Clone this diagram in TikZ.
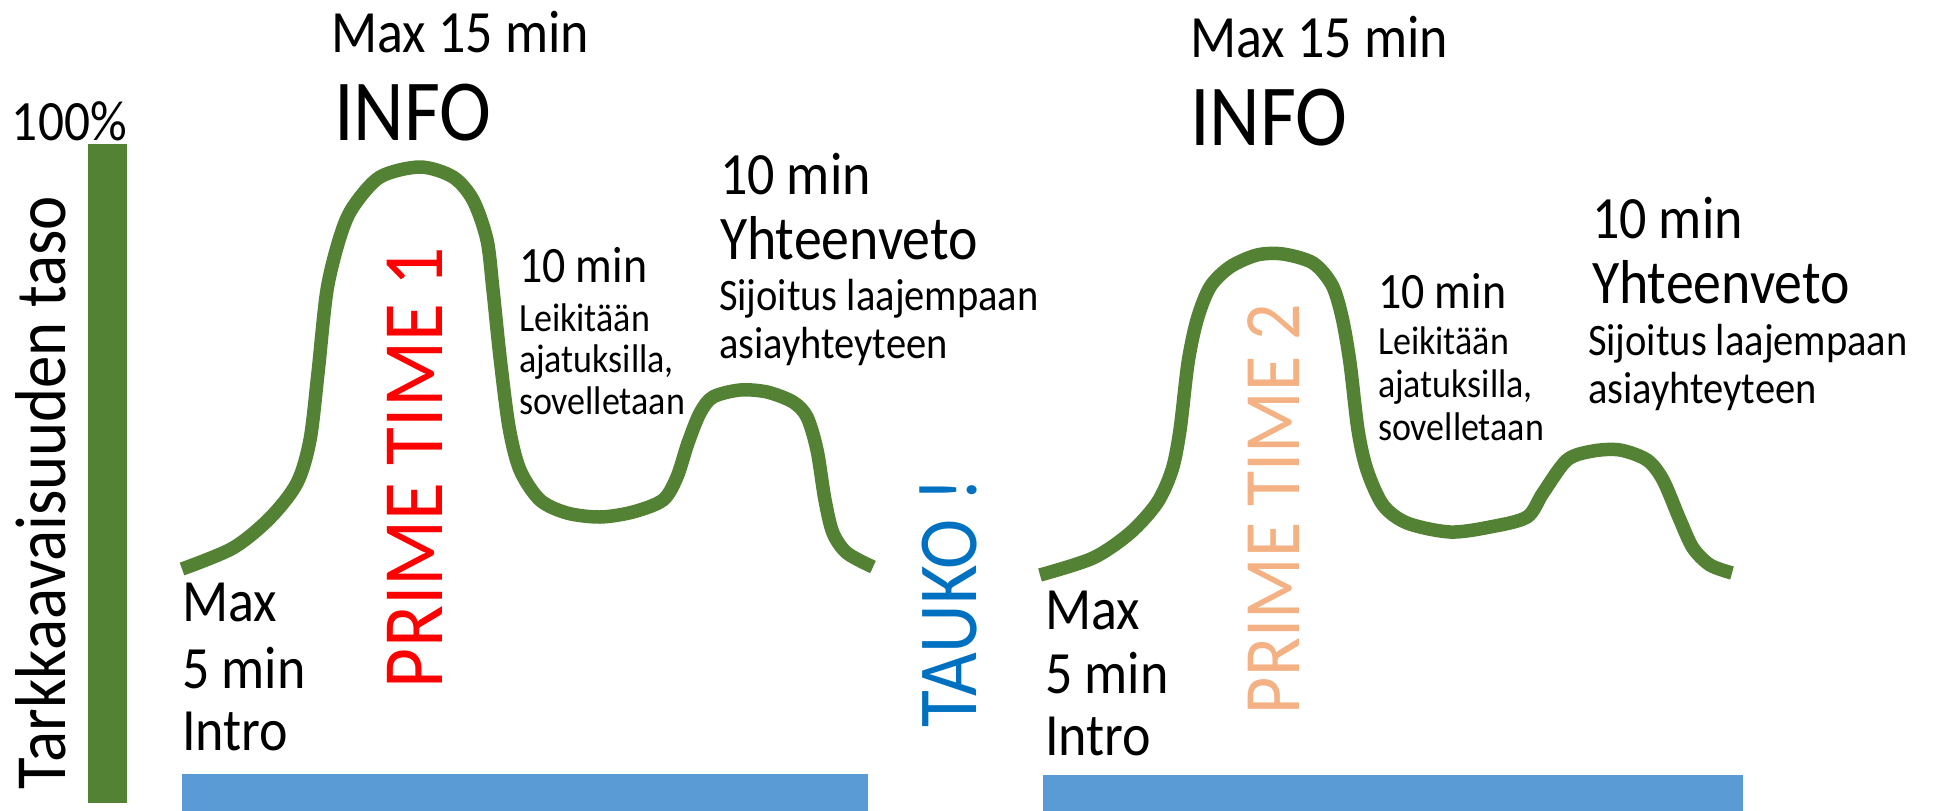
\documentclass[tikz,border=0pt]{standalone}
\usepackage{fontspec}
\setmainfont[FakeStretch=0.9]{Carlito}
\definecolor{cgreen}{HTML}{548235}
\definecolor{cbar}{HTML}{5B9BD5}
\definecolor{ctauko}{HTML}{0070C0}
\definecolor{cpt1}{HTML}{FF0000}
\definecolor{cpt2}{HTML}{F4B183}
\begin{document}
\begin{tikzpicture}[x=1pt,y=-1pt,
  txt/.style={inner sep=0pt, outer sep=0pt, anchor=base west},
  bigtxt/.style={txt, font=\fontsize{60}{62}\selectfont},
  yhttxt/.style={txt, font=\fontsize{62}{64}\selectfont},
  infotxt/.style={txt, font=\fontsize{87}{90}\selectfont},
  midtxt/.style={txt, font=\fontsize{45}{48}\selectfont},
  smalltxt/.style={txt, font=\fontsize{40}{42}\selectfont},
  sminutes/.style={txt, font=\fontsize{51}{53}\selectfont},
  vtxt/.style={txt, rotate=90},
  curve/.style={draw=cgreen, line width=13.5pt, line join=round}
]
\useasboundingbox (0,0) rectangle (1933,811);

% bars
\fill[cgreen] (88,144) rectangle (127,803);
\fill[cbar] (182,774) rectangle (868,811);
\fill[cbar] (1043,775) rectangle (1743,811);

% curves
\draw[curve] plot[smooth, tension=0.5] coordinates {
 (182,569) (233,548) (270,518) (297,483) (310,440) (318,373) (327,290)
 (340,237) (353,207) (380,177) (420,167) (453,177) (473,200) (487,240)
 (493,290) (500,357) (509,427) (520,470) (540,500) (567,513) (600,517)
 (633,512) (663,500) (677,477) (688,443) (700,413) (713,397) (740,390)
 (767,392) (793,402) (807,417) (817,450) (825,500) (833,533) (847,553)
 (873,567)};
\draw[curve] plot[smooth, tension=0.5] coordinates {
 (1040,575) (1093,558) (1130,533) (1157,503) (1172,470) (1180,430)
 (1188,363) (1197,320) (1210,287) (1230,267) (1257,255) (1283,254)
 (1313,263) (1332,285) (1342,317) (1350,363) (1358,430) (1367,470)
 (1383,505) (1407,523) (1450,532) (1490,527) (1527,517) (1543,493)
 (1567,460) (1593,451) (1620,450) (1647,460) (1663,480) (1680,520)
 (1693,548) (1710,565) (1732,573)};

% left axis texts
\node[txt, font=\fontsize{57}{60}\selectfont] (pct) at (12,140) {100\%};
\node[vtxt, font=\fontsize{72}{74}\selectfont] (axis) at (65,789) {Tarkkaavaisuuden taso};

% group 1
\node[bigtxt] (max15a) at (331,52) {Max 15 min};
\node[infotxt] (infoa) at (334,140) {INFO};
\node[sminutes] (tena) at (519,282) {10 min};
\node[smalltxt] (leika) at (519,331) {Leikitään};
\node[smalltxt] (ajata) at (519,372) {ajatuksilla,};
\node[smalltxt] (sovea) at (519,414) {sovelletaan};
\node[bigtxt] (tenya) at (720,194) {10 min};
\node[yhttxt] (yhta) at (720,259) {Yhteenveto};
\node[midtxt] (sijoa) at (719,310) {Sijoitus laajempaan};
\node[midtxt] (asiaa) at (719,358) {asiayhteyteen};
\node[bigtxt] (maxa) at (182,621) {Max};
\node[bigtxt] (fivea) at (182,688) {5 min};
\node[bigtxt] (introa) at (182,750) {Intro};
\node[vtxt, text=cpt1, font=\fontsize{86}{88}\selectfont] (pta) at (442,688) {PRIME TIME 1};

% pause
\node[vtxt, text=ctauko, font=\fontsize{84}{86}\selectfont] (tauko) at (976,727) {TAUKO !};

% group 2
\node[bigtxt] (max15b) at (1190,57) {Max 15 min};
\node[infotxt] (infob) at (1190,145) {INFO};
\node[sminutes] (tenb) at (1378,308) {10 min};
\node[smalltxt] (leikb) at (1378,354) {Leikitään};
\node[smalltxt] (ajatb) at (1378,397) {ajatuksilla,};
\node[smalltxt] (soveb) at (1378,440) {sovelletaan};
\node[bigtxt] (tenyb) at (1592,238) {10 min};
\node[yhttxt] (yhtb) at (1592,303) {Yhteenveto};
\node[midtxt] (sijob) at (1588,355) {Sijoitus laajempaan};
\node[midtxt] (asiab) at (1588,403) {asiayhteyteen};
\node[bigtxt] (maxb) at (1045,629) {Max};
\node[bigtxt] (fiveb) at (1045,693) {5 min};
\node[bigtxt] (introb) at (1045,755) {Intro};
\node[vtxt, text=cpt2, font=\fontsize{80}{82}\selectfont] (ptb) at (1299,714) {PRIME TIME 2};
\end{tikzpicture}
\end{document}
